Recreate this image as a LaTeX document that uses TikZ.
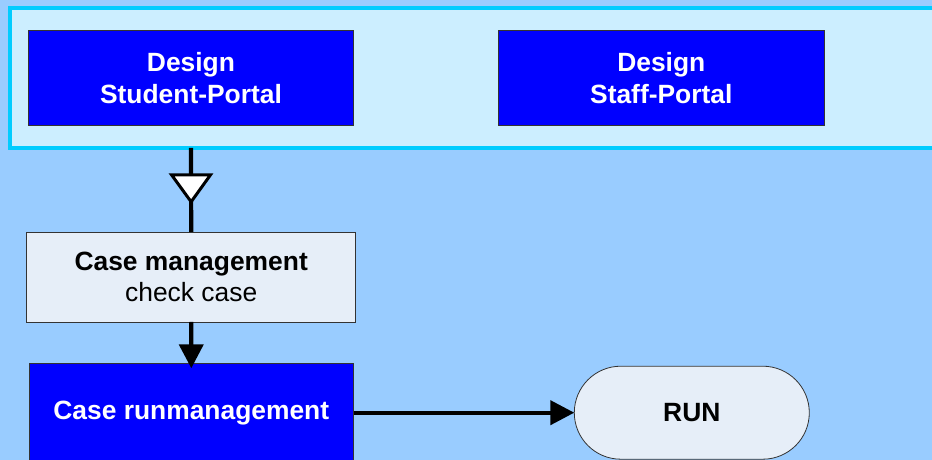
\documentclass[tikz,border=0pt]{standalone}
\usepackage{fontspec}
\setmainfont{Liberation Sans}
\usetikzlibrary{arrows.meta,decorations.markings}
\definecolor{bgblue}{HTML}{99CCFF}
\definecolor{paleblue}{HTML}{CCEEFF}
\definecolor{cyanborder}{HTML}{00CCFF}
\definecolor{deepblue}{HTML}{0000FF}
\definecolor{lightbox}{HTML}{E6EEF8}
\tikzset{
  bigfont/.style={font=\fontsize{26.4}{31.5}\selectfont\bfseries},
  bluebox/.style={draw=black!80, line width=0.8pt, fill=deepblue, text=white,
    bigfont, align=center, inner sep=0pt, outer sep=0pt},
  greybox/.style={draw=black!80, line width=0.8pt, fill=lightbox, text=black,
    align=center, inner sep=0pt, outer sep=0pt},
  container/.style={draw=cyanborder, line width=3.5pt, fill=paleblue,
    inner sep=0pt, outer sep=0pt},
  flow/.style={line width=4.2pt, black},
  fillhead/.style={-{Triangle[width=24pt,length=24pt]}},
  midtri/.style={postaction={decorate},
    decoration={markings, mark=at position 0.48 with {
      \draw[fill=white, line width=3pt, line join=miter]
        (-13.5pt,19.5pt) -- (13.5pt,0pt) -- (-13.5pt,-19.5pt) -- cycle;}}}
}
\begin{document}
\begin{tikzpicture}[x=1pt,y=1pt]
\clip (0,0) rectangle (932,460);
\fill[bgblue] (0,0) rectangle (932,460);

\node[container, minimum width=930pt, minimum height=140pt] (container) at (475,382) {};

\node[bluebox, minimum width=325pt, minimum height=94.6pt] (student) at (191,382) {Design\\Student-Portal};
\node[bluebox, minimum width=325.3pt, minimum height=94.6pt] (staff) at (661.3,382) {Design\\Staff-Portal};

\node[greybox, minimum width=329pt, minimum height=90pt,
  font=\fontsize{26.4}{31.5}\selectfont] (casemgmt) at (191.2,183)
  {\textbf{Case management}\\check case};

\node[bluebox, minimum width=324.7pt, minimum height=98.8pt] (caserun) at (191.3,47.3) {Case runmanagement};

\node[greybox, bigfont, minimum width=235pt, minimum height=93pt,
  rounded corners=46.5pt] (run) at (691.8,47.3) {RUN};

\draw[flow, midtri] (student.south |- container.south) -- (casemgmt.north);
\draw[flow, fillhead, shorten >=-5pt] (casemgmt.south) -- (caserun.north);
\draw[flow, fillhead] (caserun.east) -- (run.west);
\end{tikzpicture}
\end{document}
